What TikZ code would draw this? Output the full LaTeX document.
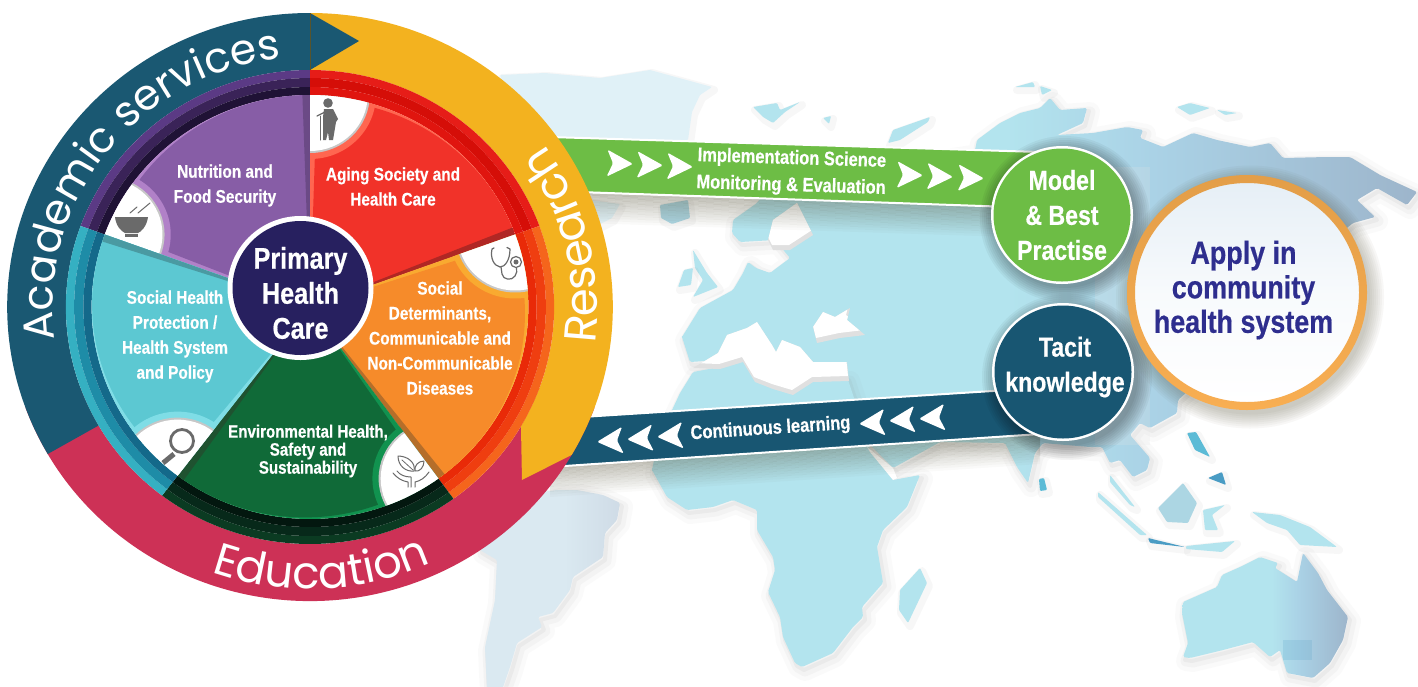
\documentclass[tikz,border=0pt]{standalone}
\usepackage{fontspec}
\usetikzlibrary{decorations.text}
\setmainfont{Liberation Sans}
\newfontfamily\cond{Liberation Sans Bold}[FakeStretch=0.84,FakeBold=0.5]
\newfontfamily\geo{Poppins}
\definecolor{acad}{HTML}{1A5872}
\definecolor{edu}{HTML}{CD3156}
\definecolor{res}{HTML}{F3B21F}
\definecolor{grn}{HTML}{6DBD45}
\definecolor{tealb}{HTML}{185672}
\definecolor{navy}{HTML}{27205F}
\definecolor{applyblue}{HTML}{2E2E8E}
\definecolor{iconc}{HTML}{6A6A6A}
\definecolor{la}{HTML}{B3E4EE}
\definecolor{lb}{HTML}{AAD2E6}
\definecolor{lc}{HTML}{9DB5CB}
\definecolor{sa}{HTML}{DAE9F1}
\definecolor{sb}{HTML}{CFDBE6}
\definecolor{gre}{HTML}{E0F1F7}
\definecolor{isa}{HTML}{5CBBD6}
\definecolor{isb}{HTML}{4A9CC4}
\definecolor{pa}{HTML}{5B3A85}\definecolor{pb}{HTML}{3A2358}\definecolor{pc}{HTML}{1F1235}
\definecolor{ra}{HTML}{E61D18}\definecolor{rb}{HTML}{D50E08}\definecolor{rc}{HTML}{E0150F}
\definecolor{oa}{HTML}{F5651C}\definecolor{ob}{HTML}{EF3E10}\definecolor{oc}{HTML}{E92A08}
\definecolor{ga}{HTML}{0B3B22}\definecolor{gb}{HTML}{07291A}\definecolor{gc}{HTML}{03170F}
\definecolor{ta}{HTML}{35B0C2}\definecolor{tb}{HTML}{1E8CA7}\definecolor{tc}{HTML}{14698A}
\definecolor{pm}{HTML}{875DA6}\definecolor{pl}{HTML}{B181C8}\definecolor{pd}{HTML}{6B4A86}
\definecolor{rm}{HTML}{F13229}\definecolor{rl}{HTML}{FF6650}\definecolor{rd}{HTML}{B02724}
\definecolor{om}{HTML}{F68B2A}\definecolor{ol}{HTML}{F9AA30}\definecolor{od}{HTML}{B56E2A}
\definecolor{gm}{HTML}{106A38}\definecolor{gl}{HTML}{11924F}\definecolor{gd}{HTML}{1F5230}
\definecolor{tm}{HTML}{5CC8D2}\definecolor{tl}{HTML}{7FDDE6}\definecolor{td}{HTML}{4A9AA2}
\definecolor{rta}{HTML}{E39E48}\definecolor{rtb}{HTML}{F8AE52}
\definecolor{dsk}{HTML}{E6EFF6}
\pgfdeclarehorizontalshading{landeu}{100bp}{color(0bp)=(la);color(47bp)=(la);color(57bp)=(lb);color(75bp)=(lc);color(100bp)=(lc)}
\pgfdeclarehorizontalshading{landaf}{100bp}{color(0bp)=(la);color(100bp)=(la)}
\pgfdeclarehorizontalshading{landau}{100bp}{color(0bp)=(la);color(52bp)=(la);color(60bp)=(lb);color(75bp)=(lc);color(100bp)=(lc)}
\pgfdeclarehorizontalshading{landsa}{100bp}{color(0bp)=(sa);color(55bp)=(sa);color(75bp)=(sb);color(100bp)=(sb)}
\tikzset{
  wtext/.style={white,align=center,inner sep=0pt,font=\cond\fontsize{18.3}{25}\selectfont},
  ctext/.style={white,align=center,inner sep=0pt,font=\cond\fontsize{27.5}{35}\selectfont},
  bandtext/.style={wtext,font=\cond\fontsize{19.6}{27}\selectfont},
  icon/.style={draw=iconc,line width=1.3pt,line cap=round,line join=round},
  iconfill/.style={fill=iconc},
  bandedge/.style={white,line width=2pt},
  curved/.style={decorate,decoration={text along path,text align={align=center},text={#1}}}
}
\newcommand\annul[5]{\fill[#5] (#1:#3) arc[start angle=#1,end angle=#2,radius=#3] -- (#2:#4) arc[start angle=#2,end angle=#1,radius=#4] -- cycle;}
\newcommand\ringseg[5]{\annul{#1}{#2}{237}{229}{#3}\annul{#1}{#2}{229}{220}{#4}\annul{#1}{#2}{220}{212}{#5}}
\newcommand\wedgeS[5]{%
 \begin{scope}
  \clip (0,0) -- (#1:212) arc[start angle=#1,end angle=#2,radius=212] -- cycle;
  \fill[#4] (-300,-300) rectangle (300,300);
  \begin{scope}
   \clip (0,0) -- ({#1-1.8}:260) -- ({(#1+#2)/2}:320) -- (#2:260) -- cycle;
   \fill[#3] (#2:8) circle (204);
  \end{scope}
  \fill[#5] (0,0) -- ({#2+2}:212) -- (#2:212) -- cycle;
  \fill[#4] (#1:212) circle (64);
  \fill[black!22] (#1:212) circle (58);
  \fill[white] (#1:212) circle (56);
 \end{scope}}
\newcommand\landshape[2]{%
  \draw[shift={(3,4)},gray,opacity=.035,line width=20pt,line join=round] #2;
  \draw[shift={(3,4)},gray,opacity=.05,line width=11pt,line join=round] #2;
  \draw[shift={(2,3)},gray,opacity=.07,line width=4pt,line join=round] #2;
  \shade[shading=#1,rounded corners=1.5pt] #2;}
\newcommand\isle[2]{%
  \draw[shift={(2,3)},gray,opacity=.06,line width=8pt,line join=round] #2;
  \fill[#1,rounded corners=1pt] #2;}
\newcommand\sea[1]{%
  \begin{scope}
   \clip #1;
   \fill[black!12] (600,150) rectangle (1000,450);
   \fill[white,shift={(-1,-5)}] #1;
  \end{scope}}
\newcommand\chev[3]{\fill[white,rounded corners=1.6pt,shift={(#1,#2)},rotate=#3,x=1pt,y=1pt] (-13,13.5) -- (13,0) -- (-13,-13.5) -- (-7,0) -- cycle;}
\begin{document}
\begin{tikzpicture}[x=1pt,y=-1pt]
\useasboundingbox (0,0) rectangle (1418,686);
\fill[white] (0,0) rectangle (1418,686);

% ---------- world map ----------
\isle{gre}{(500,75) -- (545,73) -- (600,78) -- (650,70) -- (712,87) -- (700,95) -- (692,112) -- (688,140) -- (640,142) -- (600,150) -- (560,150) -- (520,130) -- cycle}
\isle{gre}{(590,200) -- (620,204) -- (612,218) -- (600,224) -- (590,218) -- cycle}
\landshape{landeu}{(682,337) -- (700,308) -- (733,290) -- (743,273) -- (748,262) -- (756,268) -- (770,273) -- (790,258) -- (775,240) -- (740,242) -- (732,233) -- (733,220) -- (757,203) -- (770,185) -- (850,170) -- (975,150) -- (977,140) -- (1000,123) -- (1020,113) -- (1040,108) -- (1050,98) -- (1060,110) -- (1087,108) -- (1083,123) -- (1057,135) -- (1093,133) -- (1127,127) -- (1143,130) -- (1140,138) -- (1163,147) -- (1193,133) -- (1217,140) -- (1250,147) -- (1270,143) -- (1283,158) -- (1327,157) -- (1350,157) -- (1380,175) -- (1417,192) -- (1407,205) -- (1377,188) -- (1357,200) -- (1375,217) -- (1353,223) -- (1320,250) -- (1290,290) -- (1240,300) -- (1220,340) -- (1200,380) -- (1178,400) -- (1177,413) -- (1150,428) -- (1140,423) -- (1130,435) -- (1150,458) -- (1147,470) -- (1133,477) -- (1120,460) -- (1110,463) -- (1102,447) -- (1090,447) -- (1043,443) -- (1035,453) -- (1028,483) -- (1017,467) -- (1005,443) -- (940,442) -- (893,468) -- (870,445) -- (850,420) -- (840,390) -- (847,372) -- (800,375) -- (760,372) -- (720,360) -- (690,362) -- cycle}
\landshape{landaf}{(693,372) -- (720,367) -- (743,360) -- (755,380) -- (773,387) -- (793,393) -- (813,380) -- (847,377) -- (858,410) -- (870,450) -- (893,480) -- (920,475) -- (907,507) -- (883,530) -- (877,547) -- (883,583) -- (862,607) -- (863,617) -- (853,627) -- (833,653) -- (802,667) -- (795,663) -- (783,637) -- (780,617) -- (768,592) -- (775,570) -- (773,557) -- (757,530) -- (757,510) -- (733,500) -- (713,507) -- (687,510) -- (667,497) -- (652,470) -- (658,440) -- (680,393) -- cycle}
\sea{(693,368) -- (718,353) -- (727,335) -- (747,328) -- (757,322) -- (772,345) -- (776,352) -- (782,340) -- (800,347) -- (813,362) -- (847,362) -- (849,381) -- (813,382) -- (793,395) -- (773,389) -- (755,382) -- (743,362) -- (720,369) -- cycle}
\sea{(817,343) -- (813,327) -- (823,312) -- (835,317) -- (850,308) -- (847,320) -- (865,335) -- (840,338) -- cycle}
\sea{(773,220) -- (797,203) -- (803,215) -- (813,235) -- (790,250) -- (773,250) -- (768,240) -- cycle}
\fill[white] (867,447) -- (893,468) -- (897,478) -- (893,480) -- (870,452) -- cycle;
\fill[black!10,opacity=.2] (1095,167) rectangle (1150,445);
\isle{la}{(693,250) -- (707,273) -- (718,287) -- (693,297) -- (703,280) -- (695,268) -- cycle}
\isle{la}{(678,287) -- (684,270) -- (693,268) -- (691,285) -- cycle}
\isle{la!70!lc}{(660,205) -- (688,200) -- (690,218) -- (672,224) -- (661,218) -- cycle}
\isle{la}{(753,107) -- (777,103) -- (780,110) -- (800,102) -- (785,112) -- (773,123) -- (763,117) -- cycle}
\isle{la}{(823,118) -- (831,116) -- (829,124) -- cycle}
\isle{la}{(888,143) -- (893,130) -- (930,117) -- (928,122) -- (900,140) -- cycle}
\isle{la}{(1015,87) -- (1033,82) -- (1035,87) -- cycle}
\isle{la}{(1040,86) -- (1052,90) -- (1042,95) -- cycle}
\isle{la}{(1177,107) -- (1190,103) -- (1210,108) -- (1190,115) -- cycle}
\isle{la}{(1217,110) -- (1237,113) -- (1225,115) -- cycle}
\isle{la}{(900,590) -- (920,568) -- (927,583) -- (908,623) -- (899,610) -- cycle}
\isle{isa}{(1039,479) -- (1044,478) -- (1047,490) -- (1040,491) -- cycle}
\isle{la}{(1098,492) -- (1147,535) -- (1140,535) -- (1098,497) -- cycle}
\isle{la}{(1110,475) -- (1135,507) -- (1130,505) -- (1110,482) -- cycle}
\isle{la!70!lc}{(1158,508) -- (1183,483) -- (1197,503) -- (1188,523) -- (1167,522) -- cycle}
\isle{isb}{(1148,538) -- (1185,547) -- (1150,543) -- cycle}
\isle{la}{(1186,546) -- (1235,541) -- (1222,552) -- (1186,549) -- cycle}
\isle{la}{(1203,510) -- (1225,505) -- (1212,515) -- (1218,530) -- (1205,530) -- cycle}
\isle{isa}{(1187,433) -- (1196,432) -- (1210,457) -- (1195,450) -- cycle}
\isle{isb}{(1208,478) -- (1222,472) -- (1226,485) -- cycle}
\isle{la}{(1252,512) -- (1280,515) -- (1310,527) -- (1337,547) -- (1300,545) -- (1287,530) -- (1267,523) -- cycle}
\landshape{landau}{(1183,602) -- (1217,587) -- (1222,575) -- (1240,567) -- (1260,557) -- (1278,563) -- (1275,568) -- (1297,582) -- (1303,553) -- (1318,573) -- (1327,590) -- (1348,617) -- (1343,640) -- (1330,663) -- (1313,678) -- (1287,673) -- (1280,650) -- (1270,657) -- (1253,642) -- (1223,650) -- (1190,658) -- (1183,657) -- (1188,643) -- (1182,613) -- cycle}
\fill[isb,opacity=.18] (1283,640) rectangle (1312,660);
\landshape{landsa}{(480,500) -- (557,490) -- (577,490) -- (603,495) -- (620,503) -- (617,520) -- (605,533) -- (603,557) -- (573,577) -- (570,590) -- (553,613) -- (538,617) -- (542,627) -- (517,643) -- (510,667) -- (502,690) -- (487,690) -- (485,647) -- (495,600) -- (497,560) -- (480,550) -- cycle}

% ---------- band shadows ----------
\foreach \i in {0,...,11}{
  \fill[black!60!olive,opacity={.34*(1-\i/12)}] (585,{193+\i*2.5}) -- (1040,{208+\i*2.5}) -- (1040,{210.5+\i*2.5}) -- (585,{195.5+\i*2.5}) -- cycle;
  \fill[black!60!olive,opacity={.34*(1-\i/12)}] (550,{467+\i*2.5}) -- (1040,{434+\i*2.5}) -- (1040,{436.5+\i*2.5}) -- (550,{469.5+\i*2.5}) -- cycle;
}
% ---------- bands ----------
\fill[grn] (550,137) -- (1040,152) -- (1040,208) -- (550,191) -- cycle;
\draw[bandedge] (550,137) -- (1040,152);
\draw[bandedge] (550,191) -- (1040,208);
\fill[tealb] (550,419) -- (1040,388) -- (1040,434) -- (550,467) -- cycle;
\draw[bandedge] (550,419) -- (1040,388);
\draw[bandedge] (550,467) -- (1040,434);
\foreach \x/\y in {620/163.5,650/165,680/166.5,910/175,940/176.5,971/178}{\chev{\x}{\y}{-1.8}}
\foreach \x/\y in {610/441,640/438.5,670/436,872/423,902/420,932/418}{\chev{\x}{\y}{183.8}}
\node[bandtext,rotate=-1.8] (impl) at (791.5,172.5) {Implementation Science\\Monitoring \& Evaluation};
\node[bandtext,rotate=3.8] (learn) at (770.5,429) {Continuous learning};

% ---------- wheel ----------
\begin{scope}[shift={(310,307)},x=1pt,y=1pt,xscale=1.03]
  \annul{200}{340}{294}{237}{edu}
  \annul{90}{210}{294}{237}{acad}
  \fill[res] (90:294) arc[start angle=90,end angle=-30.2,radius=294] -- (205.8,-173) -- (-30.2:237) arc[start angle=-30.2,end angle=90,radius=237] -- cycle;
  \fill[acad] (0,294) -- (47.6,266) -- (0,237) -- cycle;
  \draw[black!50!olive,line width=.5pt] (90:237) -- (90:294);
  \ringseg{90}{160}{pa}{pb}{pc}
  \ringseg{90}{20}{ra}{rb}{rc}
  \ringseg{20}{-54}{oa}{ob}{oc}
  \ringseg{-54}{-127.3}{ga}{gb}{gc}
  \ringseg{-127.3}{-200}{ta}{tb}{tc}
  \wedgeS{160}{90}{pm}{pl}{pd}
  \wedgeS{90}{20}{rm}{rl}{rd}
  \wedgeS{20}{-54}{om}{ol}{od}
  \wedgeS{-54}{-127.3}{gm}{gl}{gd}
  \wedgeS{232.7}{160}{tm}{tl}{td}
  \path[curved={|\geo\fontsize{42.5}{42.5}\selectfont\color{white}|Academic services}] (190:250) arc[start angle=190,end angle=94,radius=250];
  \path[curved={|\geo\fontsize{45}{45}\selectfont\color{white}|Research}] (-9:279) arc[start angle=-9,end angle=37,radius=279];
  \path[curved={|\geo\fontsize{45}{45}\selectfont\color{white}|Education}] (248:282) arc[start angle=248,end angle=297,radius=282];
\end{scope}

% wedge texts
\node[wtext] (nutr) at (225,185.5) {Nutrition and\\Food Security};
\node[wtext] (aging) at (393,186.5) {Aging Society and\\Health Care};
\node[wtext] (sdet) at (440,338) {Social\\Determinants,\\Communicable and\\Non-Communicable\\Diseases};
\node[wtext,font=\cond\fontsize{18}{18}\selectfont] (env) at (308,451) {Environmental Health,\\Safety and\\Sustainability};
\node[wtext] (shp) at (175,336.5) {Social Health\\Protection /\\Health System\\and Policy};

% icons
\fill[iconfill] (328,103) circle (4.8);
\fill[iconfill] (324,109) -- (333,109) -- (338,119) -- (336,122) -- (335,128) -- (333,140) -- (329,140) -- (328,132) -- (326,140) -- (323,140) -- (323,126) -- (323,117) -- cycle;
\draw[icon] (325,112) -- (317,116);
\draw[icon,line width=1pt] (320,116) -- (320,140);
\draw[icon,line width=1.2pt] (494,248) -- (492,249) .. controls (490,258) and (494,266) .. (500,267) .. controls (505,267) and (510,260) .. (510,249) -- (507,247.5);
\draw[icon,line width=1.2pt] (501,267) -- (502,274) .. controls (503,280) and (512,281) .. (515,276) .. controls (517,273) and (517,271) .. (516.5,268);
\draw[icon,line width=1.2pt] (516,262) circle (5.5);
\fill[iconfill] (516,262) circle (2.5);
\draw[icon,line width=1pt] (398,456) .. controls (398,466) and (406,472) .. (414,471) .. controls (416,463) and (408,456) .. (398,456) -- cycle;
\draw[icon,line width=.8pt] (402,460) -- (413,470);
\draw[icon,line width=1pt] (424,461) .. controls (418,461) and (414,466) .. (415,471) .. controls (420,472) and (424,467) .. (424,461) -- cycle;
\draw[icon,line width=1pt] (393,473) .. controls (397,478) and (402,481) .. (408,482) -- (408,487);
\draw[icon,line width=1pt] (429,472) .. controls (425,478) and (420,481) .. (415,482) -- (415,487);
\draw[icon,line width=1pt] (397,471) .. controls (400,475) and (405,477) .. (411,477) -- (411,487);
\draw[icon,line width=2.8pt] (182,441) circle (11.5);
\draw[icon,line width=5pt,line cap=butt] (174,454) -- (163,463);
\fill[iconfill] (115,217) -- (148,217) .. controls (147,226) and (141,232) .. (138,233) -- (125,233) .. controls (121,231) and (116,226) .. (115,217) -- cycle;
\fill[iconfill] (125,234) rectangle (138,237);
\draw[icon,line width=1pt] (130,213) -- (137,207);
\draw[icon,line width=1pt] (138,213) -- (150,203);

% central disc
\fill[white] (300.5,288) ellipse [x radius=73,y radius=72];
\fill[navy] (300.5,288) ellipse [x radius=68,y radius=67];
\node[ctext,font=\cond\fontsize{30}{35}\selectfont] (phc) at (300.5,293) {Primary\\Health\\Care};

% ---------- Apply ----------
\foreach \i in {0,...,7}{
  \fill[black!60!olive,opacity=.04] (1250,297) ellipse [x radius={120+\i*2},y radius={117.5+\i*2}];
  \fill[black,opacity=.045] (1065,219) ellipse [x radius={71+\i*2},y radius={69+\i*2}];
  \fill[black,opacity=.045] (1067,377) ellipse [x radius={71+\i*2},y radius={69+\i*2}];
}
\shade[top color=dsk,bottom color=white,middle color=white!70!dsk] (1247,292.5) ellipse [x radius=113,y radius=110];
\shade[top color=rta,bottom color=rtb,even odd rule] (1247,292.5) ellipse [x radius=120,y radius=117.5] (1247,292.5) ellipse [x radius=112,y radius=109.5];
\node[align=center,inner sep=0pt,text=applyblue,font=\cond\fontsize{32}{34.5}\selectfont] (apply) at (1243.5,290) {Apply in\\community\\health system};
\fill[white] (1062,215) ellipse [x radius=71,y radius=69];
\fill[grn] (1062,215) ellipse [x radius=68.5,y radius=66.5];
\node[ctext] (model) at (1062,215) {Model\\\&{} Best\\Practise};
\fill[white] (1063,372) ellipse [x radius=71,y radius=69];
\fill[tealb] (1063,372) ellipse [x radius=68.5,y radius=66.5];
\node[ctext] (tacit) at (1065,367) {Tacit\\knowledge};
\end{tikzpicture}
\end{document}
